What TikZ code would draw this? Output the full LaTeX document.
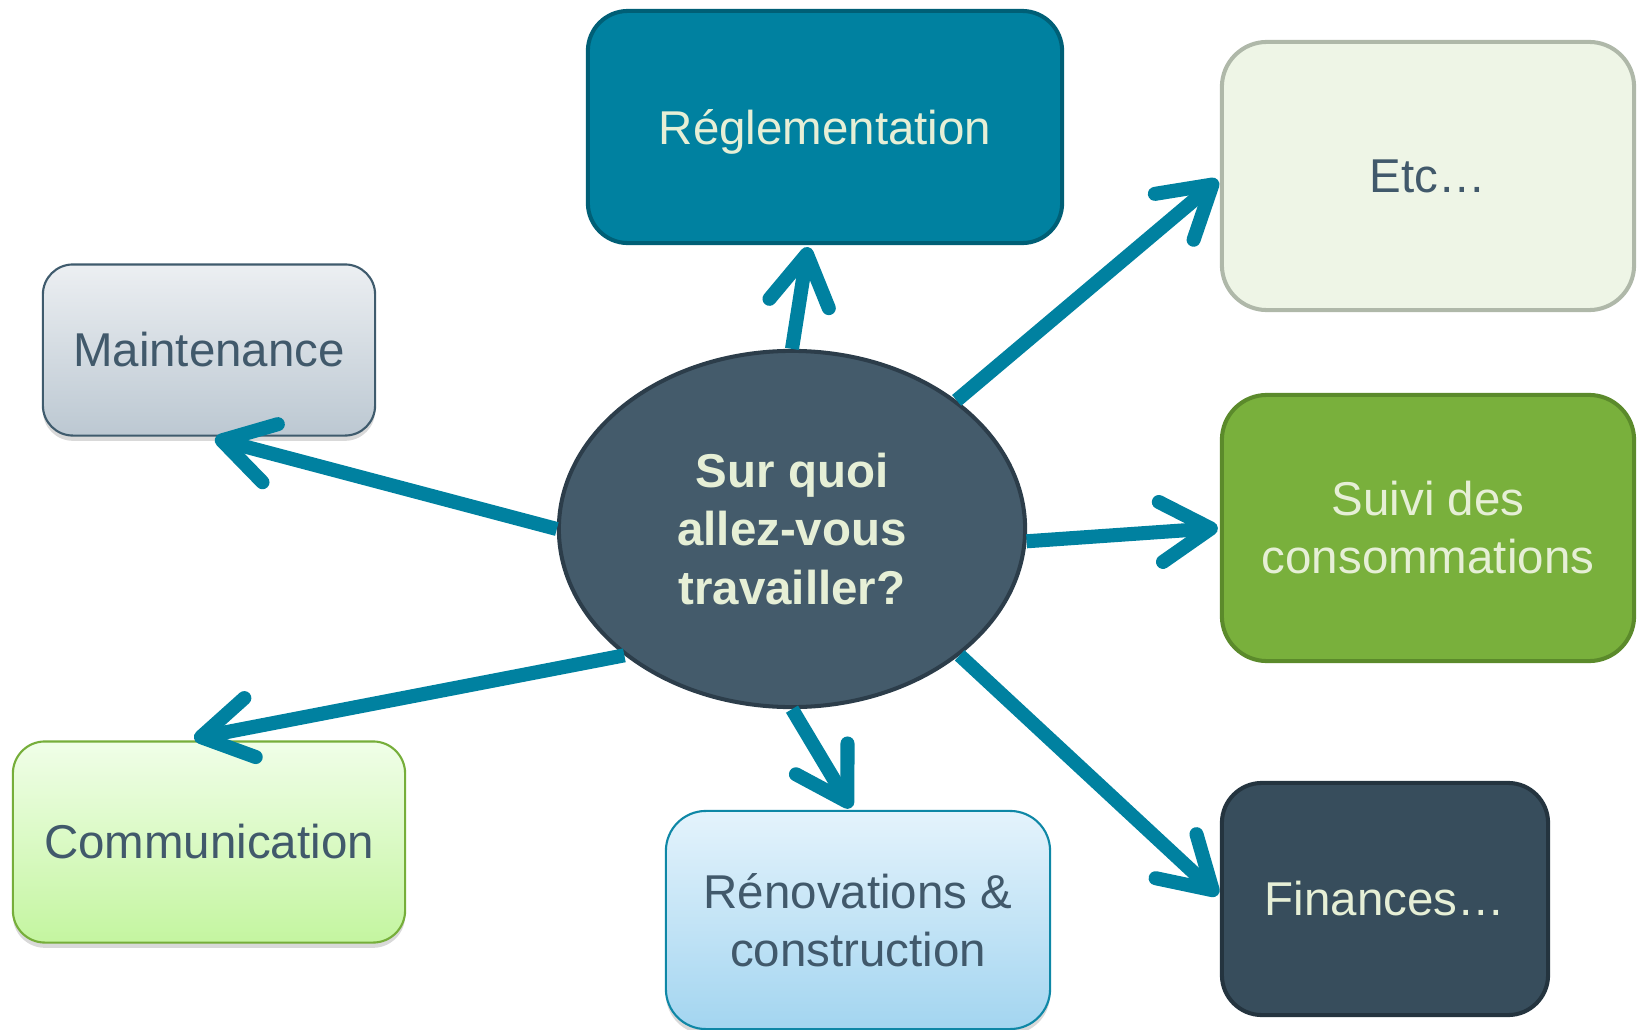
\documentclass[tikz,border=0pt]{standalone}
\usepackage{fontspec}
\setmainfont{Liberation Sans}
\usepackage{tikz}
\usetikzlibrary{
  arrows.meta,
  positioning,
  shapes.geometric,
  shadows,
  calc
}
\usepackage{xcolor}
\definecolor{tealBlue}{HTML}{0081A0}
\definecolor{darkTeal}{HTML}{005F76}
\definecolor{slateBlue}{HTML}{445B6B}
\definecolor{darkSlate}{HTML}{2C3D4A}
\definecolor{inkBlue}{HTML}{41596B}
\definecolor{creamText}{HTML}{E6EFD6}
\definecolor{paleGreen}{HTML}{EEF5E6}
\definecolor{greyGreen}{HTML}{AFB8A9}
\definecolor{leafGreen}{HTML}{79B03C}
\definecolor{darkLeaf}{HTML}{5B8A2B}
\definecolor{nightBlue}{HTML}{374D5C}
\definecolor{nightEdge}{HTML}{24343F}
\definecolor{mistTop}{HTML}{ECEFF2}
\definecolor{mistBottom}{HTML}{BCC8D2}
\definecolor{mistEdge}{HTML}{3F5B6D}
\definecolor{limeTop}{HTML}{F0FEE8}
\definecolor{limeBottom}{HTML}{C4F5A0}
\definecolor{limeEdge}{HTML}{76AE3A}
\definecolor{skyTop}{HTML}{E4F3FC}
\definecolor{skyBottom}{HTML}{A3D5F0}
\definecolor{skyEdge}{HTML}{0E87A6}
\tikzset{
  box/.style={
    rectangle,
    rounded corners=0.4cm,
    align=center,
    inner sep=0pt,
    font=\fontsize{13.5}{16.5}\selectfont
  },
  thickbox/.style={box, line width=1.15pt},
  softbox/.style={
    box,
    line width=0.6pt,
    text=inkBlue,
    drop shadow={opacity=0.3, shadow xshift=0pt, shadow yshift=-1.5pt}
  },
  link/.style={
    -{Straight Barb[length=5mm, width=6mm, round]},
    line width=4pt,
    color=tealBlue
  }
}

\begin{document}
\begin{tikzpicture}[x=0.01cm, y=-0.01cm]
  \useasboundingbox (0,0) rectangle (1641,1030);

  \node[thickbox, minimum width=4.74cm, minimum height=2.32cm, text depth=0pt,
    fill=tealBlue, draw=darkTeal, text=creamText] (regl) at (825,127) {Réglementation};
  \node[thickbox, rounded corners=0.45cm, minimum width=4.12cm, minimum height=2.68cm,
    fill=paleGreen, draw=greyGreen, text=inkBlue] (etc) at (1428,176) {Etc…};
  \node[thickbox, rounded corners=0.45cm, minimum width=4.12cm, minimum height=2.66cm,
    fill=leafGreen, draw=darkLeaf, text=creamText] (suivi) at (1428,528) {Suivi des\\consommations};
  \node[thickbox, minimum width=3.26cm, minimum height=2.32cm,
    fill=nightBlue, draw=nightEdge, text=creamText] (fin) at (1385,899) {Finances…};

  \node[softbox, rounded corners=0.3cm, minimum width=3.32cm, minimum height=1.71cm,
    top color=mistTop, bottom color=mistBottom, draw=mistEdge] (maint) at (209,350) {Maintenance};
  \node[softbox, rounded corners=0.32cm, minimum width=3.92cm, minimum height=2.01cm,
    top color=limeTop, bottom color=limeBottom, draw=limeEdge] (comm) at (209,842) {Communication};
  \node[softbox, minimum width=3.84cm, minimum height=2.18cm,
    top color=skyTop, bottom color=skyBottom, draw=skyEdge] (reno) at (858,920) {Rénovations \&\\construction};

  \node[ellipse, minimum width=4.66cm, minimum height=3.56cm, inner sep=0pt,
    fill=slateBlue, draw=darkSlate, line width=1.15pt, text=creamText, align=center,
    font=\fontsize{13.5}{16.5}\selectfont\bfseries] (centre) at (792,529)
    {Sur quoi\\allez-vous\\travailler?};

  \draw[link] (centre.90) -- ($(regl.south)+(-17,2)$);
  \draw[link] (centre.38) -- ($(etc.west)+(-2,4)$);
  \draw[link] (centre.-3) -- ($(suivi.west)+(-2,0)$);
  \draw[link] (centre.-37) -- ($(fin.west)+(-2,-4)$);
  \draw[link] (centre.-90) -- ($(reno.north)+(-7,-2)$);
  \draw[link] (centre.-143) -- ($(comm.north)+(-15,-2)$);
  \draw[link] (centre.180) -- ($(maint.south)+(6,2)$);
\end{tikzpicture}
\end{document}
